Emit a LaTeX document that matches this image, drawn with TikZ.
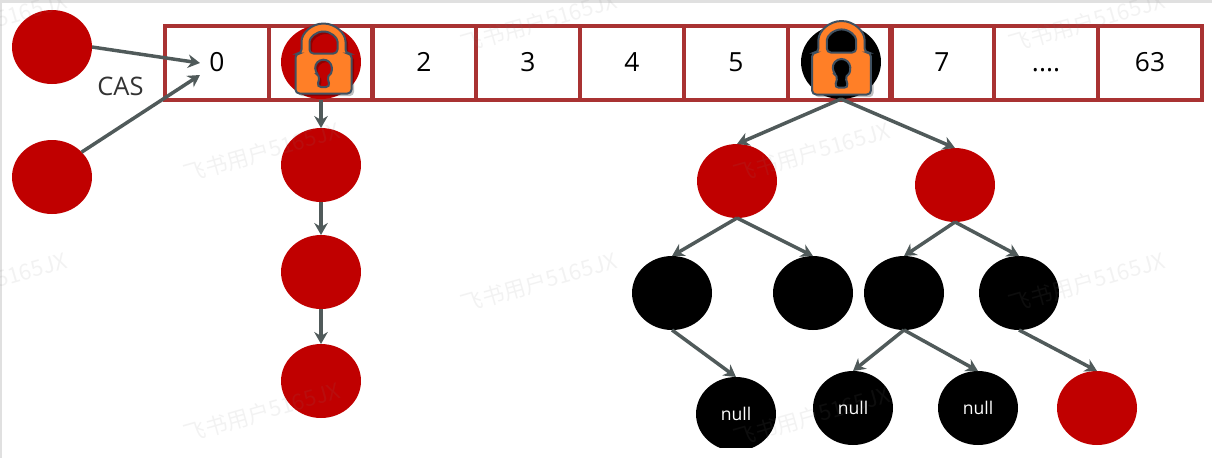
\documentclass[tikz,border=0pt]{standalone}
\usepackage{fontspec}
\setmainfont{Open Sans}
\newfontfamily\cjk{Noto Sans CJK SC}
\usetikzlibrary{arrows.meta,shapes.geometric}
\definecolor{bucketred}{HTML}{A93232}
\definecolor{nodered}{HTML}{C00000}
\definecolor{arrowgray}{HTML}{505A5A}
\definecolor{lockorange}{HTML}{FF7F27}
\definecolor{lockedge}{HTML}{3F5060}
\newcommand{\moredots}{....}
\tikzset{
  bucket cell/.style={draw=bucketred,line width=0.08cm,minimum width=2.07cm,minimum height=1.48cm,inner sep=0pt,outer sep=0pt,text height=10.7pt,text depth=0pt,font=\fontsize{15}{17}\selectfont},
  tree node/.style={ellipse,minimum width=1.6cm,minimum height=1.48cm,inner sep=0pt,outer sep=0pt},
  red node/.style={tree node,fill=nodered},
  black node/.style={tree node,fill=black,text=white,font=\fontsize{10}{12}\selectfont},
  link edge/.style={-{Stealth[length=0.24cm,width=0.27cm]},draw=arrowgray,line width=0.07cm},
  water mark/.style={rotate=16,text=gray,text opacity=0.1,font=\cjk\fontsize{12.5}{14}\selectfont},
  lock/.pic={
    \def\lockshape{(-28,-20) -- (-28,20) -- (28,20) -- (28,-20) -- (22,-20) -- (22,-28)
      arc[start angle=360,end angle=180,radius=22] -- (-22,-20) -- cycle
      (-14,-20) -- (-14,-28) arc[start angle=180,end angle=360,radius=14] -- (14,-20) -- cycle
      (3.5,2) arc[start angle=65,end angle=-245,radius=8.3] -- (-6.5,13.5) -- (6.5,13.5) -- cycle}
    \fill[black,opacity=0.25,even odd rule,rounded corners=0.08cm,shift={(2.5,2.5)}] \lockshape;
    \filldraw[fill=lockorange,draw=lockedge,line width=0.04cm,even odd rule,rounded corners=0.08cm] \lockshape;
  },
}
\begin{document}
\begin{tikzpicture}[x=0.02cm,y=-0.02cm]
  \useasboundingbox (0,0) rectangle (1212,458);
  \fill[black!12] (0,0) rectangle (1212,3);
  \fill[black!12] (0,0) rectangle (2,458);
  \clip (0,0) rectangle (1212,447);
  \foreach \i/\x/\t in {0/217/0,1/321/,2/424/2,3/528/3,4/632/4,5/736/5,6/840/,7/942/7,8/1046/\moredots,9/1150/63}{
    \node[bucket cell] (c\i) at (\x,62.5) {\t};
  }
  \node[red node] (a1) at (52,47) {};
  \node[red node] (a2) at (52,177) {};
  \node[text=black!80,font=\fontsize{14.5}{16}\selectfont] (cas) at (120.5,86.5) {CAS};
  \coordinate (casa) at (200,63);
  \coordinate (casb) at (200,75);
  \draw[link edge] (a1.east)--(casa);
  \draw[link edge] (a2.40)--(casb);
  \node[red node] (b0) at (321,62) {};
  \node[red node] (b1) at (321,165) {};
  \node[red node] (b2) at (321,272) {};
  \node[red node] (b3) at (321,381) {};
  \draw[link edge] (c1.south)--(b1);
  \draw[link edge] (b1)--(b2);
  \draw[link edge] (b2)--(b3);
  \node[black node] (t0) at (841,62) {};
  \node[red node] (t1) at (737,181) {};
  \node[red node] (t2) at (955,185) {};
  \node[black node] (t3) at (672,293) {};
  \node[black node] (t4) at (813,293) {};
  \node[black node] (t5) at (904,293) {};
  \node[black node] (t6) at (1019,293) {};
  \node[black node] (t7) at (736,414) {null};
  \node[black node] (t8) at (853,408) {null};
  \node[black node] (t9) at (978,408) {null};
  \node[red node] (t10) at (1097,408) {};
  \draw[link edge] (t0.south)--(t1.north);
  \draw[link edge] (t0.south)--(t2.north);
  \draw[link edge] (t1.south)--(t3.north);
  \draw[link edge] (t1.south)--(t4.north);
  \draw[link edge] (t2.south)--(t5.north);
  \draw[link edge] (t2.south)--(t6.north);
  \draw[link edge] (t3.south)--(t7.north);
  \draw[link edge] (t5.south)--(t8.north);
  \draw[link edge] (t5.south)--(t9.north);
  \draw[link edge] (t6.south)--(t10.north);
  \pic at (323.5,73.5) {lock};
  \pic[scale=1.05] at (841.5,73.5) {lock};
  \foreach \i/\x/\y in {1/-11/22,2/539/22,3/1087/22,4/262/152,5/812/152,6/-11/282,7/539/282,8/1087/282,9/262/412,10/812/416}{
    \node[water mark] (mark\i) at (\x,\y) {飞书用户5165JX};
  }
\end{tikzpicture}
\end{document}
